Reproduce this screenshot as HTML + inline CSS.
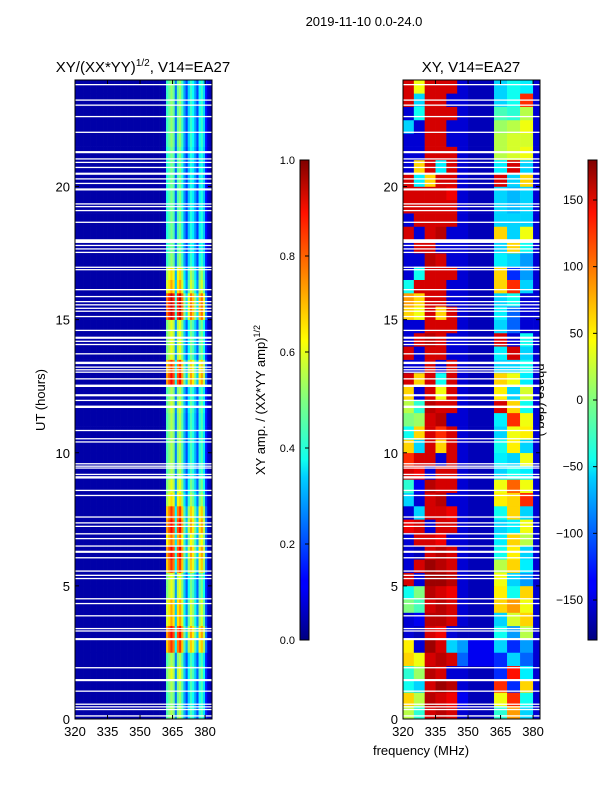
<!DOCTYPE html>
<html><head><meta charset="utf-8">
<style>
html,body{margin:0;padding:0;background:#fff;}
svg{display:block;font-family:"Liberation Sans","DejaVu Sans",sans-serif;}
</style></head>
<body>
<svg id="fig" width="600" height="800" viewBox="0 0 600 800">
<defs>
<linearGradient id="jetv" x1="0" y1="1" x2="0" y2="0">
<stop offset="0" stop-color="#000080"/><stop offset="0.11" stop-color="#0000ff"/>
<stop offset="0.125" stop-color="#0000ff"/><stop offset="0.34" stop-color="#00d0ff"/>
<stop offset="0.375" stop-color="#10ffef"/><stop offset="0.5" stop-color="#80ff80"/>
<stop offset="0.625" stop-color="#ffff00"/><stop offset="0.66" stop-color="#ffe000"/>
<stop offset="0.89" stop-color="#ff1000"/><stop offset="1" stop-color="#800000"/>
</linearGradient>
</defs>
<text x="364" y="26" font-size="13" text-anchor="middle">2019-11-10 0.0-24.0</text>
<text x="143" y="72" font-size="15" text-anchor="middle">XY/(XX*YY)<tspan font-size="10" dy="-6">1/2</tspan><tspan dy="6">, V14=EA27</tspan></text>
<text x="471" y="72" font-size="15" text-anchor="middle">XY, V14=EA27</text>
<text transform="translate(45,400) rotate(-90)" font-size="13" text-anchor="middle">UT (hours)</text>
<text x="421" y="755" font-size="13" text-anchor="middle">frequency (MHz)</text>
<text transform="translate(265,400) rotate(-90)" font-size="13" text-anchor="middle">XY amp. / (XX*YY amp)<tspan font-size="9" dy="-5">1/2</tspan></text>
<text transform="translate(537,400) rotate(90)" font-size="13" text-anchor="middle">phase (deg.)</text>
<g id="left"></g>
<g id="right"></g>
<g id="axes"></g>
</svg>
<script>
// ---- data ----
const freqStart = 320, freqEnd = 383.2;
const ampChanFreqs = [];
for (let f = 320; f <= 383; f++) ampChanFreqs.push(f);
const ampProfile = [0.04,0.04,0.04,0.04,0.04,0.04,0.04,0.04,0.04,0.04,0.04,0.04,0.04,0.04,0.04,0.04,0.04,0.04,0.04,0.04,0.04,0.04,0.04,0.04,0.04,0.04,0.04,0.04,0.04,0.04,0.04,0.04,0.04,0.04,0.04,0.04,0.04,0.04,0.04,0.04,0.05,0.05,
0.45,0.5,0.55,0.5,0.25,0.5,0.55,0.45,0.3,0.2,0.35,0.45,0.4,0.3,0.2,0.4,0.45,0.35,0.15,0.07,0.05,0.05];
const ampGain = [1.0,0.95,1.0,1.1,1.0,1.5,1.6,1.3,1.3,1.1,1.1,1.5,1.6,1.4,1.6,1.5,1.2,1.1,1.0,1.0,1.0,1.0,1.0,1.05,1.0,1.6,1.5,1.1,1.1,1.1,1.7,1.7,1.3,1.2,0.95,0.9,0.9,0.9,0.9,0.9,0.9,0.9,0.9,0.95,0.95,0.95,0.95,0.95];
const phaseBlockEdges = [320,325,330,335,340,345,350,362,368,374,380,383.2];
const phaseRows = [
[20,-30,150,160,150,-150,-160,-30,80,-60,-150],[60,20,160,150,140,-140,-160,40,120,-40,-150],
[-40,-60,150,170,160,-150,-160,120,-120,60,-150],[-30,10,160,150,-150,-150,-160,-120,130,-50,-150],
[60,40,150,160,150,-100,-140,-120,-60,-100,-150],[50,-150,170,150,-60,-80,-140,-60,-120,-80,-150],
[-150,-160,150,140,-150,-160,-160,-40,-80,20,-150],[-150,-140,160,160,150,-150,-160,-60,30,60,-150],
[0,-20,150,160,150,-150,-160,60,80,40,-150],[-40,0,160,150,140,-150,-160,50,-40,60,-150],
[150,-150,170,170,160,-150,-160,40,-60,-80,-150],[-150,150,170,160,150,-150,-160,20,60,-50,-150],
[-150,-160,150,160,150,-150,-160,-40,50,-60,-150],[-150,150,150,140,-150,-150,-160,-50,60,20,-150],
[140,150,-150,150,150,-150,-160,-60,-50,40,-150],[-150,-60,150,150,140,-150,-160,-40,60,-60,-150],
[-60,-150,150,160,-150,-150,-160,50,60,120,-150],[-30,-140,160,150,150,-150,-160,40,100,40,-150],
[150,140,-150,150,150,-150,-160,-60,-40,-50,-150],[120,150,150,-150,150,-150,-160,-50,-60,40,-150],
[60,-60,150,60,150,-150,-160,-40,50,-60,-150],[-40,60,150,120,150,-150,-160,-60,40,50,-150],
[0,10,150,160,-150,-150,-160,-50,120,40,-150],[20,-30,160,150,150,-150,-160,150,60,-40,-150],
[60,-150,150,40,150,-150,-160,50,-60,30,-150],[150,60,150,-40,150,-150,-160,60,40,-50,-150],
[-150,-150,150,-150,150,-150,-160,-60,-60,-40,-150],[150,-150,150,150,-150,-150,-160,-50,150,-60,-150],
[-150,150,160,150,-150,-150,-160,150,-150,-40,-150],[-150,-150,150,150,150,-150,-160,-60,-100,-150,-150],
[60,40,150,60,150,-150,-160,-50,-100,-150,-150],[80,60,150,150,-150,-150,-160,-60,-40,-150,-150],
[-40,150,150,150,-150,-150,-160,60,120,-60,-150],[-150,-40,150,150,150,-150,-160,60,-120,-80,-150],
[-150,-150,160,150,-150,-150,-160,-50,-60,-80,-150],[-150,150,150,-150,-150,-150,-160,-60,60,-40,-150],
[150,-150,150,160,-150,-150,-160,60,-60,40,-150],[-150,150,150,150,150,-150,-160,-60,-60,-60,-150],
[150,150,150,150,150,-150,-160,-60,-70,-60,-150],[150,150,150,150,140,-150,-160,-60,-70,-60,-150],
[150,-50,60,150,150,-150,-160,150,-60,60,-150],[-150,60,150,-50,150,-150,-160,-50,150,-60,-150],
[-150,-150,150,150,150,-150,-160,20,30,40,-150],[-150,-150,150,150,-150,-150,-160,20,30,30,-150],
[-60,-150,150,150,-150,-150,-160,10,20,40,-150],[-150,-40,150,150,150,-150,-160,-20,-30,20,-150],
[150,-60,150,150,-150,-150,-160,-60,-40,120,-150],[150,40,150,150,150,-150,-160,-60,-40,-50,-150]];
const flagStarts = [0.09,0.34,0.44,0.54,1.03,1.42,1.91,2.96,3.29,3.38,3.86,4.32,4.50,5.26,5.38,5.54,6.04,6.24,6.48,6.76,6.94,7.22,7.35,7.57,8.38,8.57,9.03,9.17,9.41,9.48,9.57,10.39,10.51,10.82,11.68,11.95,12.12,12.47,12.76,13.01,13.10,13.20,13.33,13.70,14.05,14.17,14.28,14.58,15.10,15.30,15.41,15.54,15.66,15.85,16.11,16.86,16.95,17.51,17.64,17.77,17.88,18.64,19.08,19.23,19.33,19.85,20.10,20.27,20.44,20.70,20.89,21.02,21.25,22.02,22.61,23.04,23.23,23.81];
const flagEnds   = [0.14,0.38,0.48,0.58,1.07,1.50,1.95,3.04,3.33,3.42,3.90,4.36,4.54,5.30,5.42,5.58,6.08,6.32,6.52,6.80,6.98,7.26,7.39,7.61,8.42,8.61,9.12,9.21,9.45,9.52,9.61,10.43,10.55,10.86,11.77,11.99,12.20,12.56,12.80,13.05,13.14,13.24,13.42,13.74,14.09,14.21,14.36,14.62,15.14,15.34,15.45,15.58,15.70,15.89,16.15,16.90,16.99,17.55,17.68,17.81,18.02,18.68,19.12,19.27,19.37,19.93,20.14,20.31,20.52,20.74,20.93,21.06,21.33,22.06,22.65,23.08,23.27,23.85];
const xTicks = [320,335,350,365,380];
const yTicks = [0,5,10,15,20];
const ampCbTicks = [0.0,0.2,0.4,0.6,0.8,1.0];
const phaseCbTicks = [-150,-100,-50,0,50,100,150];

// ---- helpers ----
const NS = "http://www.w3.org/2000/svg";
function mk(tag, attrs, parent){const e=document.createElementNS(NS,tag);for(const k in attrs)e.setAttribute(k,attrs[k]);parent.appendChild(e);return e;}
function jet(v){v=Math.max(0,Math.min(1,v));
  const r=Math.max(0,Math.min(1,1.5-Math.abs(4*v-3)));
  const g=Math.max(0,Math.min(1,1.5-Math.abs(4*v-2)));
  const b=Math.max(0,Math.min(1,1.5-Math.abs(4*v-1)));
  return `rgb(${Math.round(r*255)},${Math.round(g*255)},${Math.round(b*255)})`;}
const panels=[{x0:75,x1:212},{x0:403,x1:540}];
const yTop=80,yBot=719;
function yScale(h){return yBot-(h/24)*(yBot-yTop);}
function xScale(p,f){return p.x0+(f-freqStart)/(freqEnd-freqStart)*(p.x1-p.x0);}

// ---- left amplitude heatmap ----
const gL=document.getElementById('left');
const nRows=ampGain.length, rowH=24/nRows;
for(let r=0;r<nRows;r++){
  const y0=yScale((r+1)*rowH), y1=yScale(r*rowH);
  for(let c=0;c<ampChanFreqs.length;c++){
    const f=ampChanFreqs[c];
    const x0=xScale(panels[0],f), x1=xScale(panels[0],Math.min(f+1,freqEnd));
    const v=ampProfile[c]>0.1?ampProfile[c]*ampGain[r]:ampProfile[c];
    const el=mk('rect',{x:x0.toFixed(2),y:y0.toFixed(2),width:(x1-x0+0.3).toFixed(2),height:(y1-y0+0.3).toFixed(2),fill:jet(v)},gL);
    
    
  }
}
// ---- right phase heatmap ----
const gR=document.getElementById('right');
const pRowH=24/phaseRows.length;
for(let r=0;r<phaseRows.length;r++){
  const y0=yScale((r+1)*pRowH), y1=yScale(r*pRowH);
  for(let c=0;c<phaseRows[r].length;c++){
    const x0=xScale(panels[1],phaseBlockEdges[c]), x1=xScale(panels[1],phaseBlockEdges[c+1]);
    const el=mk('rect',{x:x0.toFixed(2),y:y0.toFixed(2),width:(x1-x0+0.3).toFixed(2),height:(y1-y0+0.3).toFixed(2),fill:jet((phaseRows[r][c]+180)/360)},gR);
    
    
  }
}
// ---- flagged rows ----
const gA=document.getElementById('axes');
for(const p of panels){
  for(let i=0;i<flagStarts.length;i++){
    const y0=yScale(flagEnds[i]), y1=yScale(flagStarts[i]);
    const el=mk('rect',{x:p.x0,y:y0.toFixed(2),width:p.x1-p.x0,height:Math.max(1.3,y1-y0).toFixed(2),fill:'#fff'},gA);
    
    
  }
}
// ---- axes ----
panels.forEach((p,pi)=>{
  const fr=mk('rect',{x:p.x0,y:yTop,width:p.x1-p.x0,height:yBot-yTop,fill:'none',stroke:'#000','stroke-width':1},gA);
  
  
  xTicks.forEach(t=>{
    const x=xScale(p,t);
    mk('line',{x1:x,y1:yBot,x2:x,y2:yBot-4,stroke:'#000'},gA);
    mk('line',{x1:x,y1:yTop,x2:x,y2:yTop+4,stroke:'#000'},gA);
    const tx=mk('text',{x:x,y:yBot+17,'font-size':13,'text-anchor':'middle'},gA);
    tx.textContent=t;
    
    
  });
  yTicks.forEach(t=>{
    const y=yScale(t);
    mk('line',{x1:p.x0,y1:y,x2:p.x0+4,y2:y,stroke:'#000'},gA);
    mk('line',{x1:p.x1,y1:y,x2:p.x1-4,y2:y,stroke:'#000'},gA);
    const tx=mk('text',{x:p.x0-5,y:y+5,'font-size':13,'text-anchor':'end'},gA);
    tx.textContent=t;
    
    
  });
});
// ---- colorbars ----
const cbs=[{x:300,ticks:ampCbTicks,lo:0,hi:1,fmt:v=>v.toFixed(1),name:'amplitude-colorbar'},
           {x:588,ticks:phaseCbTicks,lo:-180,hi:180,fmt:v=>v<0?'\u2212'+(-v):String(v),name:'phase-colorbar'}];
const cbTop=160,cbBot=640,cbW=9;
cbs.forEach(cb=>{
  const r=mk('rect',{x:cb.x,y:cbTop,width:cbW,height:cbBot-cbTop,fill:'url(#jetv)',stroke:'#000','stroke-width':1},gA);
  
  
  cb.ticks.forEach(t=>{
    const y=cbBot-(t-cb.lo)/(cb.hi-cb.lo)*(cbBot-cbTop);
    mk('line',{x1:cb.x+cbW,y1:y,x2:cb.x+cbW-4,y2:y,stroke:'#000'},gA);
    const tx=mk('text',{x:cb.x-5,y:y+4,'font-size':cb.lo===0?11:12,'text-anchor':'end'},gA);
    tx.textContent=cb.fmt(t);
    
    
  });
});
</script>
</body></html>
